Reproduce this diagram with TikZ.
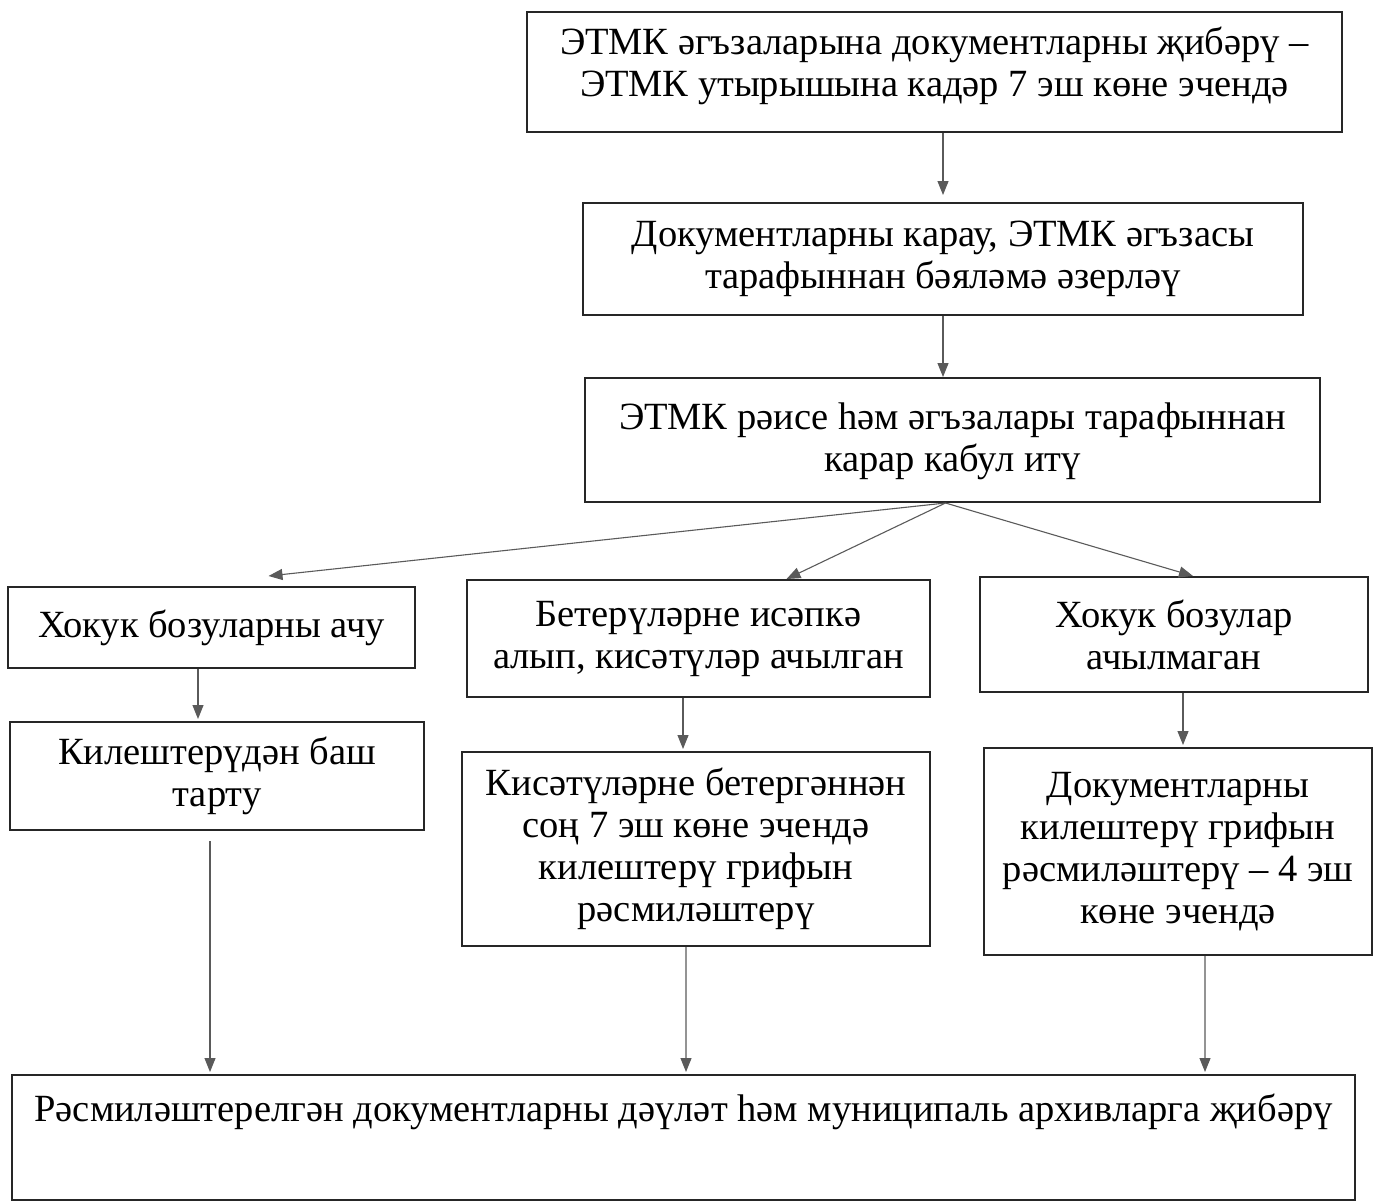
\documentclass[tikz,border=0pt]{standalone}
\usepackage{fontspec}
\setmainfont{Liberation Serif}
\usetikzlibrary{arrows.meta,calc}
\definecolor{linec}{HTML}{5A5A5A}
\definecolor{boxc}{HTML}{262626}
\tikzset{
  txt/.style={font=\fontsize{38.5bp}{42bp}\selectfont, text=black},
  box/.style={draw=boxc, line width=2bp, inner sep=0pt, align=center, txt},
  arr/.style={draw=linec, line width=1.1bp,
    -{Triangle[length=14bp,width=11bp]}, color=linec}
}
\begin{document}
\begin{tikzpicture}[x=1bp,y=-1bp]
\useasboundingbox (0,0) rectangle (1375,1202);
\node[box, minimum width=815bp, minimum height=120bp] (a) at (934.5,72)
  {ЭТМК әгъзаларына документларны җибәрү –\\ЭТМК утырышына кадәр 7 эш көне эчендә\\[-22bp]\mbox{}};
\node[box, minimum width=720bp, minimum height=112bp] (b) at (943,259)
  {Документларны карау, ЭТМК әгъзасы\\тарафыннан бәяләмә әзерләү};
\node[box, minimum width=735bp, minimum height=124bp] (c) at (952.5,440)
  {ЭТМК рәисе һәм әгъзалары тарафыннан\\карар кабул итү\\[-36bp]\mbox{}};
\node[box, minimum width=407bp, minimum height=81bp] (d) at (211.5,627.5)
  {Хокук бозуларны ачу};
\node[box, minimum width=463bp, minimum height=117bp] (e) at (698.5,638.5)
  {Бетерүләрне исәпкә\\алып, кисәтүләр ачылган};
\node[box, minimum width=388bp, minimum height=115bp] (f) at (1174,634.5)
  {Хокук бозулар\\ачылмаган};
\node[box, minimum width=414bp, minimum height=108bp] (g) at (217,776)
  {Килештерүдән баш\\тарту};
\node[box, minimum width=468bp, minimum height=194bp] (h) at (696,849)
  {Кисәтүләрне бетергәннән\\соң 7 эш көне эчендә\\килештерү грифын\\рәсмиләштерү};
\node[box, minimum width=388bp, minimum height=207bp] (i) at (1178,851.5)
  {Документларны\\килештерү грифын\\рәсмиләштерү – 4 эш\\көне эчендә};
\node[box, minimum width=1343bp, minimum height=125bp] (j) at (683.5,1137.5) {};
\node[txt, inner sep=0pt, anchor=center] (jt) at (683.5,1112)
  {Рәсмиләштерелгән документларны дәүләт һәм муниципаль архивларга җибәрү};

\draw[arr, shorten >=7bp] (a.south -| b.north) -- (b.north);
\draw[arr] (b.south) -- (b.south |- c.north);
\draw[arr] ($(c.south)+(-7,0)$) -- ($(d.north)+(57,-10)$);
\draw[arr] ($(c.south)+(-7,0)$) -- ($(e.north)+(88,0)$);
\draw[arr] ($(c.south)+(-7,0)$) -- ($(f.north)+(19,0)$);
\draw[arr] ($(d.south)+(-13.5,0)$) -- ($(g.north)+(-19,-2)$);
\draw[arr] ($(e.south)+(-15.5,0)$) -- ($(h.north)+(-13,-2)$);
\draw[arr] ($(f.south)+(9,0)$) -- ($(i.north)+(5,-2)$);
\draw[arr] ($(g.south)+(-7,10)$) -- ($(j.north)+(-473.5,-2)$);
\draw[arr] ($(h.south)+(-10,0)$) -- ($(j.north)+(2.5,-2)$);
\draw[arr] ($(i.south)+(27,0)$) -- ($(j.north)+(521.5,-2)$);
\end{tikzpicture}
\end{document}
